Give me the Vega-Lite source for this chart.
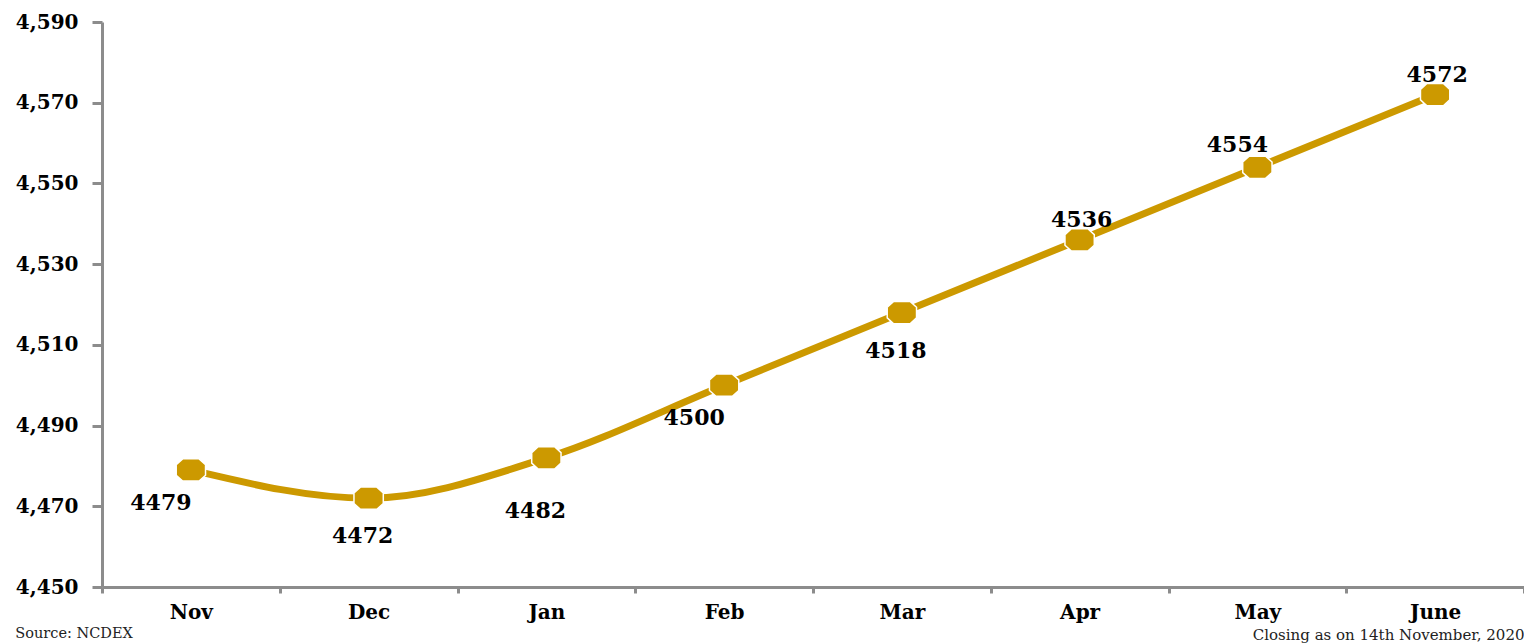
{
  "$schema": "https://vega.github.io/schema/vega-lite/v6.json",
  "autosize": "none",
  "width": 1422,
  "height": 565,
  "padding": {"left": 102, "top": 22, "right": 0, "bottom": 56},
  "background": "white",
  "title": {
    "text": "Source: NCDEX",
    "orient": "bottom",
    "anchor": "start",
    "frame": "bounds",
    "offset": -15,
    "font": "DejaVu Serif",
    "fontSize": 14.5,
    "fontWeight": "normal",
    "color": "#222222"
  },
  "data": {
    "values": [
      {"month": "Nov", "price": 4479},
      {"month": "Dec", "price": 4472},
      {"month": "Jan", "price": 4482},
      {"month": "Feb", "price": 4500},
      {"month": "Mar", "price": 4518},
      {"month": "Apr", "price": 4536},
      {"month": "May", "price": 4554},
      {"month": "June", "price": 4572}
    ]
  },
  "config": {
    "view": {"stroke": null},
    "axis": {
      "domainColor": "#8C8C8C",
      "domainWidth": 3,
      "tickColor": "#8C8C8C",
      "tickWidth": 3,
      "grid": false,
      "labelFont": "DejaVu Serif",
      "labelFontWeight": "bold",
      "labelFontSize": 20,
      "labelColor": "#000000"
    },
    "text": {"font": "DejaVu Serif", "fontWeight": "bold", "fontSize": 22, "color": "#000000"}
  },
  "encoding": {
    "x": {
      "field": "month",
      "type": "nominal",
      "sort": ["Nov", "Dec", "Jan", "Feb", "Mar", "Apr", "May", "June"],
      "scale": {"type": "band", "paddingInner": 0, "paddingOuter": 0},
      "bandPosition": 0.5,
      "axis": {
        "title": "Closing as on 14th November, 2020",
        "titleFont": "DejaVu Serif",
        "titleFontSize": 15,
        "titleFontWeight": "normal",
        "titleColor": "#222222",
        "titleAnchor": "end",
        "titleAlign": "right",
        "titlePadding": 5,
        "labelAngle": 0,
        "tickBand": "extent",
        "tickSize": 6,
        "labelPadding": 9
      }
    },
    "y": {
      "field": "price",
      "type": "quantitative",
      "scale": {"domain": [4450, 4590], "nice": false, "zero": false},
      "axis": {
        "title": null,
        "values": [4450, 4470, 4490, 4510, 4530, 4550, 4570, 4590],
        "format": ",d",
        "tickSize": 10,
        "labelPadding": 14
      }
    }
  },
  "layer": [
    {
      "mark": {"type": "line", "color": "#CC9900", "strokeWidth": 7, "interpolate": "monotone"}
    },
    {
      "mark": {
        "type": "point",
        "filled": true,
        "color": "#CC9900",
        "stroke": "white",
        "strokeWidth": 1.5,
        "opacity": 1,
        "size": 860,
        "shape": "M-1,-0.36 L-0.56,-0.76 L0.56,-0.76 L1,-0.36 L1,0.36 L0.56,0.76 L-0.56,0.76 L-1,0.36 Z"
      }
    },
    {
      "transform": [{"filter": "indexof(['Nov','Feb'], datum.month) >= 0"}],
      "mark": {"type": "text", "dx": -30, "dy": 33},
      "encoding": {"text": {"field": "price", "type": "quantitative", "format": "d"}}
    },
    {
      "transform": [{"filter": "indexof(['Dec','Mar'], datum.month) >= 0"}],
      "mark": {"type": "text", "dx": -6, "dy": 38},
      "encoding": {"text": {"field": "price", "type": "quantitative", "format": "d"}}
    },
    {
      "transform": [{"filter": "datum.month == 'Jan'"}],
      "mark": {"type": "text", "dx": -11, "dy": 53},
      "encoding": {"text": {"field": "price", "type": "quantitative", "format": "d"}}
    },
    {
      "transform": [{"filter": "indexof(['Apr','June'], datum.month) >= 0"}],
      "mark": {"type": "text", "dx": 2, "dy": -20},
      "encoding": {"text": {"field": "price", "type": "quantitative", "format": "d"}}
    },
    {
      "transform": [{"filter": "datum.month == 'May'"}],
      "mark": {"type": "text", "dx": -20, "dy": -22},
      "encoding": {"text": {"field": "price", "type": "quantitative", "format": "d"}}
    }
  ]
}
